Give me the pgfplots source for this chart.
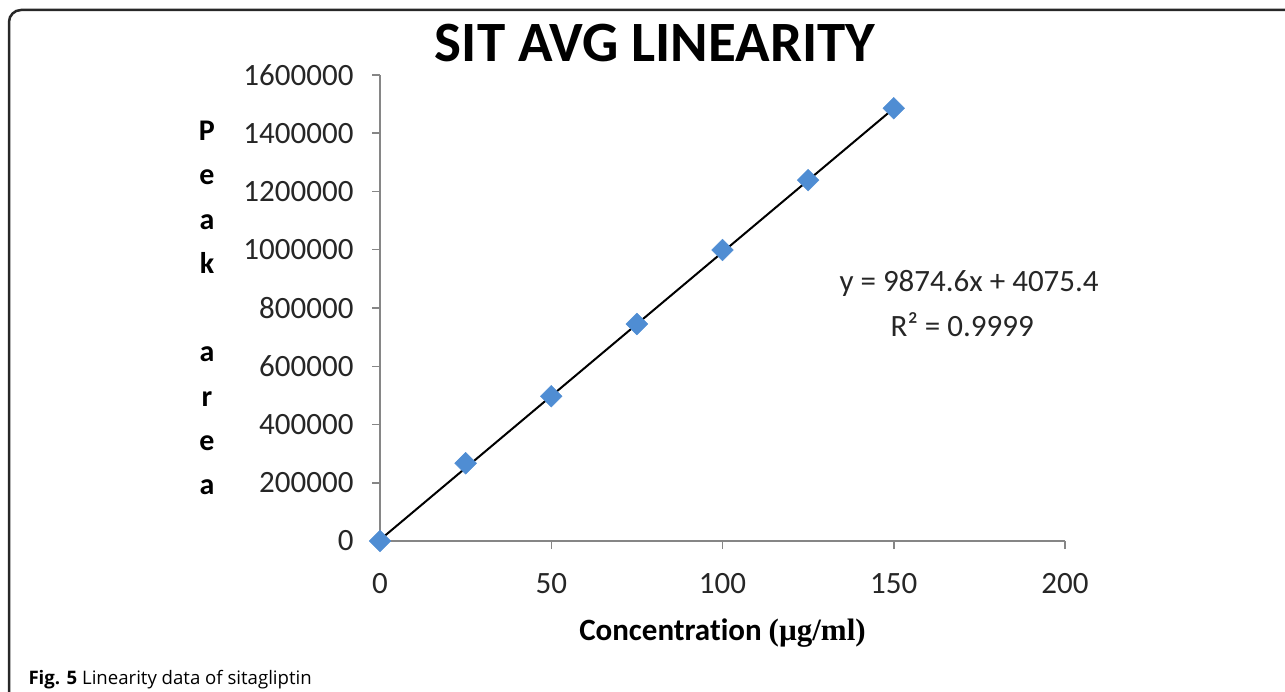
\documentclass[border=0pt]{standalone}
\usepackage{fontspec}
\setmainfont{Carlito}[Ligatures=NoCommon]
\newfontfamily\capfont{Open Sans}
\newfontfamily\serifbf{Liberation Serif}
\usepackage{pgfplots}
\usepackage{pgfplotstable}
\pgfplotsset{compat=1.18}
\definecolor{markblue}{RGB}{79,141,211}
\definecolor{axgray}{RGB}{134,134,134}
\definecolor{framegray}{RGB}{40,40,40}

\pgfplotstableread{
x y
0 0
25 267000
50 497000
75 745000
100 999000
125 1239000
150 1486000
}\datatable

\begin{document}
\begin{tikzpicture}[x=1pt,y=1pt]
\useasboundingbox (0,0) rectangle (1285,691);
\draw[framegray, line width=2.5pt, rounded corners=12pt] (9,-10) -- (9,681) -- (1300,681);
\begin{axis}[
  at={(380pt,150pt)}, anchor=south west,
  scale only axis, width=685pt, height=466pt,
  xmin=0, xmax=200, ymin=0, ymax=1600000,
  axis x line*=bottom, axis y line*=left,
  axis line style={axgray, line width=1.5pt},
  tick align=outside, major tick length=8pt,
  tick style={axgray, line width=1.5pt},
  xtick={0,50,...,200},
  ytick={0,200000,...,1600000},
  scaled y ticks=false,
  yticklabel style={/pgf/number format/fixed, /pgf/number format/1000 sep={}, xshift=-15pt},
  xticklabel style={yshift=-21pt},
  /pgf/number format/assume math mode=true,
  ticklabel style={font=\fontsize{31}{31}\selectfont, text=black!85},
  clip=false,
  title={SIT AVG LINEARITY},
  title style={at={(axis description cs:0.4015,1.0155)}, anchor=base, font=\bfseries\fontsize{57}{57}\selectfont},
  xlabel={Concentration {\serifbf(µg/ml)}},
  xlabel style={font=\bfseries\fontsize{31}{31}\selectfont, at={(axis description cs:0.5,0)}, anchor=base, yshift=-99pt},
  ylabel={P\\e\\a\\k\\[44.25pt]a\\r\\e\\a},
  ylabel style={rotate=-90, at={(axis description cs:-0.2526,0.5)}, anchor=center, align=center, font=\bfseries\fontsize{30}{44.25}\selectfont},
]
\addplot[only marks, mark=square*, mark size=7.7pt, mark options={rotate=45, fill=markblue, draw=markblue}] table {\datatable};
\addplot[black, line width=2pt] coordinates {(0,4075.4) (150,1485265.4)};
\node[font=\fontsize{31}{31}\selectfont, text=black!85] at (axis cs:172,885800) {y = 9874.6x + 4075.4};
\node[font=\fontsize{31}{31}\selectfont, text=black!85] at (axis cs:170,741600) {R² = 0.9999};
\end{axis}
\node[anchor=base west, font=\capfont\fontsize{18.6}{18.6}\selectfont] at (25,7) {\textbf{Fig. 5} Linearity data of sitagliptin};
\end{tikzpicture}
\end{document}
